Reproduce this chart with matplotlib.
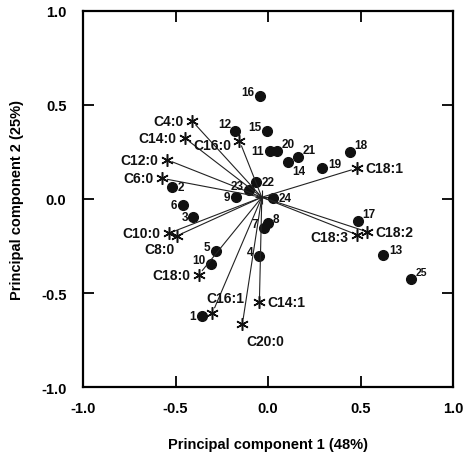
import matplotlib.pyplot as plt

plt.rcParams['font.family'] = ['Liberation Sans', 'DejaVu Sans']
plt.rcParams['font.weight'] = 'bold'

# sample scores (numbered dots)
sample_ids = [str(i) for i in range(1, 26)]
pc1_scores = [-0.358, -0.521, -0.404, -0.047, -0.283, -0.461, -0.022, -0.003, -0.175, -0.308,
              0.008, -0.178, 0.623, 0.110, -0.007, -0.043, 0.485, 0.443, 0.294, 0.050,
              0.164, -0.065, -0.103, 0.025, 0.773]
pc2_scores = [-0.624, 0.062, -0.094, -0.303, -0.278, -0.030, -0.156, -0.128, 0.009, -0.346,
              0.253, 0.363, -0.296, 0.195, 0.363, 0.549, -0.115, 0.248, 0.165, 0.257,
              0.222, 0.092, 0.048, 0.004, -0.426]

# fatty acid loadings (stars)
acids = ['C4:0', 'C14:0', 'C16:0', 'C12:0', 'C6:0', 'C10:0', 'C8:0', 'C18:0',
         'C16:1', 'C14:1', 'C20:0', 'C18:1', 'C18:3', 'C18:2']
pc1_load = [-0.412, -0.449, -0.155, -0.548, -0.575, -0.535, -0.495, -0.375,
            -0.301, -0.047, -0.139, 0.479, 0.479, 0.534]
pc2_load = [0.416, 0.323, 0.310, 0.209, 0.110, -0.182, -0.197, -0.404,
            -0.606, -0.546, -0.665, 0.163, -0.190, -0.174]

# where the loading vectors meet
origin = (-0.034, 0.009)

# label placement: offset in points, ha, va
place = {
    'l': ((-4, 0), 'right', 'center'),
    'lu': ((-4, 3), 'right', 'center'),
    'r': ((4, 0), 'left', 'center'),
    'ru': ((4, 3), 'left', 'center'),
    'ur': ((3, 5), 'left', 'center'),
    'ul': ((-3, 5), 'right', 'center'),
    'lr': ((3, -6), 'left', 'center'),
    'ld': ((-4, -3), 'right', 'center'),
}
dot_pos = ['l', 'r', 'l', 'lu', 'lu', 'l', 'lu', 'ru', 'l', 'lu',
           'l', 'ul', 'ru', 'lr', 'lu', 'lu', 'ur', 'ur', 'ru', 'ur',
           'ur', 'r', 'lu', 'r', 'ur']
star_pos = {'C4:0': ((-6, 0), 'right', 'center'),
            'C14:0': ((-6, 0), 'right', 'center'),
            'C16:0': ((-6, -3), 'right', 'center'),
            'C12:0': ((-6, 0), 'right', 'center'),
            'C6:0': ((-6, 0), 'right', 'center'),
            'C10:0': ((-6, 0), 'right', 'center'),
            'C8:0': ((-1, -9), 'right', 'center'),
            'C18:0': ((-6, 0), 'right', 'center'),
            'C16:1': ((9, 11), 'center', 'center'),
            'C14:1': ((6, 0), 'left', 'center'),
            'C20:0': ((3, -12), 'left', 'center'),
            'C18:1': ((6, 0), 'left', 'center'),
            'C18:3': ((-6, -2), 'right', 'center'),
            'C18:2': ((6, 0), 'left', 'center')}

fig = plt.figure(figsize=(4.72, 4.56), dpi=100)
ax = fig.add_axes([0.176, 0.149, 0.784, 0.825])

# loading vectors
for x, y in zip(pc1_load, pc2_load):
    ax.annotate('', xy=(x, y), xytext=origin,
                arrowprops=dict(arrowstyle='-', lw=0.8, color='#222222', shrinkA=0, shrinkB=4))

ax.plot(pc1_load, pc2_load, ls='none', marker=(6, 2, 0), ms=9, mew=1.1, color='#111111')
ax.plot([origin[0]], [origin[1]], ls='none', marker='+', ms=10, mew=0.8, color='#222222')
ax.plot(pc1_scores, pc2_scores, ls='none', marker='o', ms=7, color='#111111')

for name, x, y in zip(acids, pc1_load, pc2_load):
    off, ha, va = star_pos[name]
    ax.annotate(name, (x, y), xytext=off, textcoords='offset points',
                ha=ha, va=va, fontsize=10, fontweight='bold', color='#111111')

for sid, x, y, p in zip(sample_ids, pc1_scores, pc2_scores, dot_pos):
    off, ha, va = place[p]
    fs = 7.5 if sid == '25' else 8.5
    ax.annotate(sid, (x, y), xytext=off, textcoords='offset points',
                ha=ha, va=va, fontsize=fs, fontweight='bold', color='#111111')

ax.set_xlim(-1, 1)
ax.set_ylim(-1, 1)
ax.set_xticks([-1.0, -0.5, 0.0, 0.5, 1.0])
ax.set_yticks([-1.0, -0.5, 0.0, 0.5, 1.0])
ax.set_xticklabels(['-1.0', '-0.5', '0.0', '0.5', '1.0'])
ax.set_yticklabels(['-1.0', '-0.5', '0.0', '0.5', '1.0'])
ax.tick_params(direction='in', length=8, width=1.3, top=True, right=True,
               labelsize=10.5, pad=10)
ax.tick_params(axis='y', pad=12)
for s in ax.spines.values():
    s.set_linewidth(1.6)

ax.set_xlabel('Principal component 1 (48%)', fontsize=10.5, fontweight='bold', labelpad=16)
ax.set_ylabel('Principal component 2 (25%)', fontsize=10.5, fontweight='bold', labelpad=12)

fig.savefig('out.png', dpi=100, facecolor='white')
